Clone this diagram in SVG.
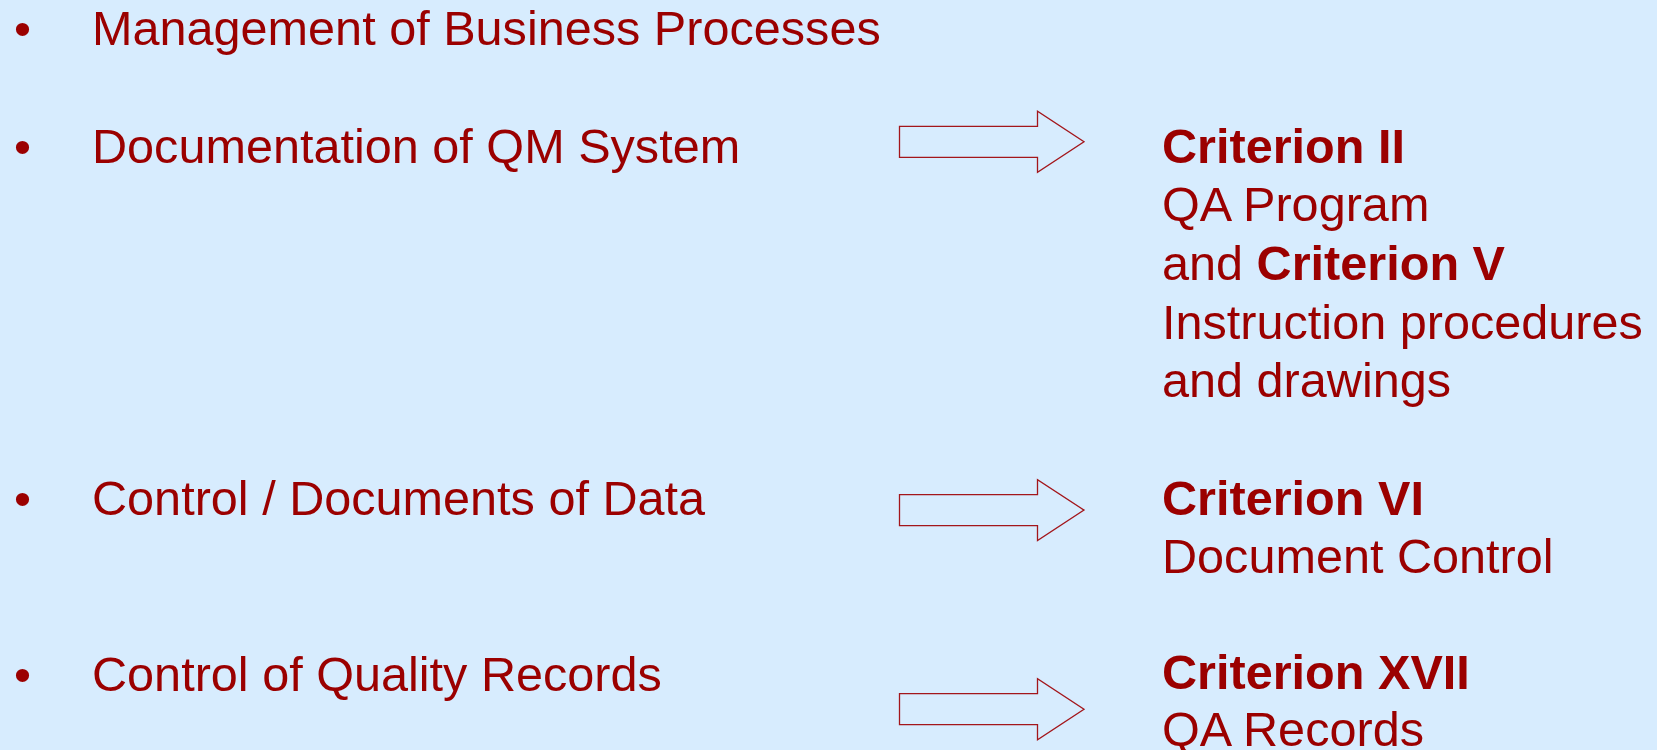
<svg xmlns="http://www.w3.org/2000/svg" width="1657" height="750" viewBox="0 0 1657 750">
<style>
text{font-family:"Liberation Sans",Arial,sans-serif;font-size:48.6px;fill:#9b0000}
.b{font-weight:bold}
.arrow{fill:none;stroke:#a3161b;stroke-width:1.3}
</style>
<defs>
<path id="arr" d="M0,0 H138 V-15 L184.5,15.5 L138,46 V31 H0 Z"/>
</defs>
<rect width="1657" height="750" fill="#d7ecfe"/>
<g id="item1"><text x="14" y="45">•</text><text x="92" y="45">Management of Business Processes</text></g>
<g id="item2"><text x="14" y="163">•</text><text x="92" y="163">Documentation of QM System</text></g>
<g id="item3"><text x="14" y="515">•</text><text x="92" y="515">Control / Documents of Data</text></g>
<g id="item4"><text x="14" y="691">•</text><text x="92" y="691">Control of Quality Records</text></g>
<g id="connectors">
<use href="#arr" class="arrow" x="899.5" y="126.3"/>
<use href="#arr" class="arrow" x="899.5" y="494.6"/>
<use href="#arr" class="arrow" x="899.5" y="693.7"/>
</g>
<g id="crit2">
<text x="1162" y="163" class="b">Criterion II</text>
<text x="1162" y="221">QA Program</text>
<text x="1162" y="280">and <tspan class="b">Criterion V</tspan></text>
<text x="1162" y="339">Instruction procedures</text>
<text x="1162" y="397">and drawings</text>
</g>
<g id="crit6">
<text x="1162" y="515" class="b">Criterion VI</text>
<text x="1162" y="573">Document Control</text>
</g>
<g id="crit17">
<text x="1162" y="689" class="b">Criterion XVII</text>
<text x="1162" y="746">QA Records</text>
</g>
</svg>
